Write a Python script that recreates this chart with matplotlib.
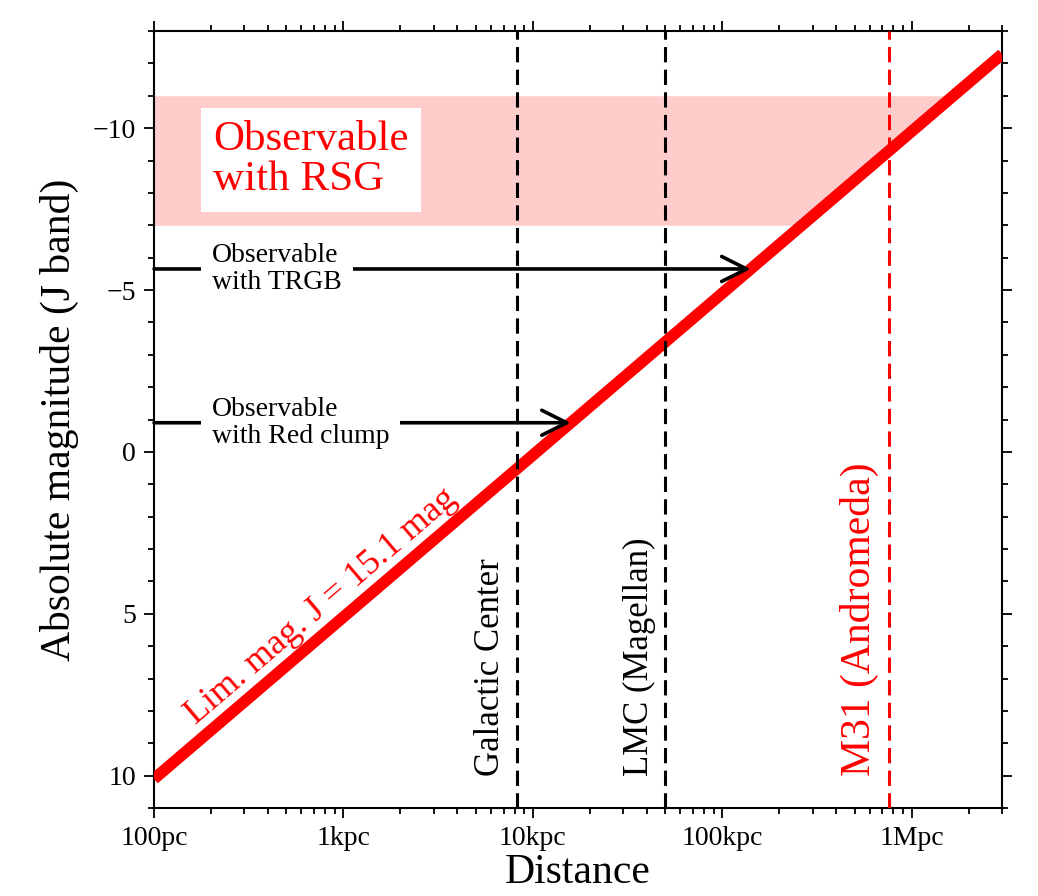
import numpy as np
import matplotlib
matplotlib.use("Agg")
import matplotlib.pyplot as plt

plt.rcParams['font.family'] = ['Liberation Serif', 'DejaVu Serif']
plt.rcParams['mathtext.fontset'] = 'stix'

# limiting apparent magnitude in J and the plotted distance range (pc)
J_LIM = 15.1
dist_range = [100, 3e6]

# observable band for red supergiants (absolute J mag)
rsg_band = [-11, -7]

# standard candles: absolute J magnitude
candle_names = ["Observable\nwith TRGB", "Observable\nwith Red clump"]
candle_mag = [-5.65, -0.9]

# reference objects and their distances (pc)
obj_names = ["Galactic Center", "LMC (Magellan)", "M31 (Andromeda)"]
obj_dist = [8.2e3, 5.0e4, 7.6e5]
obj_color = ["black", "black", "red"]
obj_size = [25, 25, 30]

xtick_pos = [1e2, 1e3, 1e4, 1e5, 1e6]
xtick_lab = ["100pc", "1kpc", "10kpc", "100kpc", "1Mpc"]
ytick_pos = [-10, -5, 0, 5, 10]


def abs_mag(d):
    return J_LIM - 5 * np.log10(np.asarray(d) / 10.0)


def dist_at(m):
    return 10.0 * 10 ** ((J_LIM - np.asarray(m)) / 5.0)


fig = plt.figure(figsize=(10.38, 8.96), dpi=100)
ax = fig.add_axes([0.1484, 0.0982, 0.8170, 0.8672])
ax.set_xscale('log')
ax.set_xlim(dist_range)
ax.set_ylim(11, -13)

# RSG band, bounded on the right by the limit line
ax.fill_betweenx(rsg_band, dist_range[0], dist_at(rsg_band),
                 color='#ffcccc', lw=0, zorder=1)
ax.text(0.070, 0.834, "Observable\nwith RSG", transform=ax.transAxes,
        fontsize=31, color='red', ha='left', va='center', linespacing=1.05,
        bbox=dict(fc='white', ec='none', pad=9), zorder=3)

# limiting magnitude line
ax.plot(dist_range, abs_mag(dist_range), color='red', lw=8.3,
        solid_capstyle='butt', zorder=4)

# label along the line
p0 = ax.transData.transform((dist_range[0], abs_mag(dist_range[0])))
p1 = ax.transData.transform((dist_range[1], abs_mag(dist_range[1])))
ang = np.degrees(np.arctan2(p1[1] - p0[1], p1[0] - p0[0]))
th = np.radians(ang)
off = 10
ax.annotate("Lim. mag. J = 15.1 mag", xy=(185, abs_mag(185)),
            xytext=(-off * np.sin(th), off * np.cos(th)),
            textcoords='offset points', rotation=ang, rotation_mode='anchor',
            ha='left', va='baseline', fontsize=26, color='red', zorder=5)

# vertical reference lines with labels
for name, d, c, fs in zip(obj_names, obj_dist, obj_color, obj_size):
    ax.axvline(d, color=c, lw=2.2, ls=(0, (5, 2.4)), zorder=5)
    ax.annotate(name, xy=(d, 10.0), xytext=(-7, 0), textcoords='offset points',
                rotation=90, ha='right', va='bottom', fontsize=fs, color=c,
                zorder=5)

# arrows for the standard candles
for name, m in zip(candle_names, candle_mag):
    ax.annotate('', xy=(dist_at(m), m), xytext=(dist_range[0], m),
                arrowprops=dict(arrowstyle='->,head_length=0.9,head_width=0.45',
                                lw=2.6, color='black', shrinkA=0, shrinkB=0,
                                mutation_scale=20),
                zorder=6)
    ax.text(0.068, m, name, transform=ax.get_yaxis_transform(),
            fontsize=20, ha='left', va='center', linespacing=1.1,
            bbox=dict(fc='white', ec='none', pad=8), zorder=7)

ax.set_xticks(xtick_pos)
ax.set_xticklabels(xtick_lab)
ax.set_yticks(ytick_pos)
ax.set_yticklabels([f"\u2212{abs(v)}" if v < 0 else str(v) for v in ytick_pos])
ax.yaxis.set_minor_locator(matplotlib.ticker.MultipleLocator(1))

ax.tick_params(which='both', direction='out', top=True, right=True,
               labelsize=20, width=1.3)
ax.tick_params(which='major', length=7, pad=6)
ax.tick_params(which='minor', length=4)
for s in ax.spines.values():
    s.set_linewidth(1.5)

ax.set_xlabel("Distance", fontsize=30, labelpad=2)
ax.set_ylabel("Absolute magnitude (J band)", fontsize=30, labelpad=10)

fig.savefig("out.png", dpi=100)
